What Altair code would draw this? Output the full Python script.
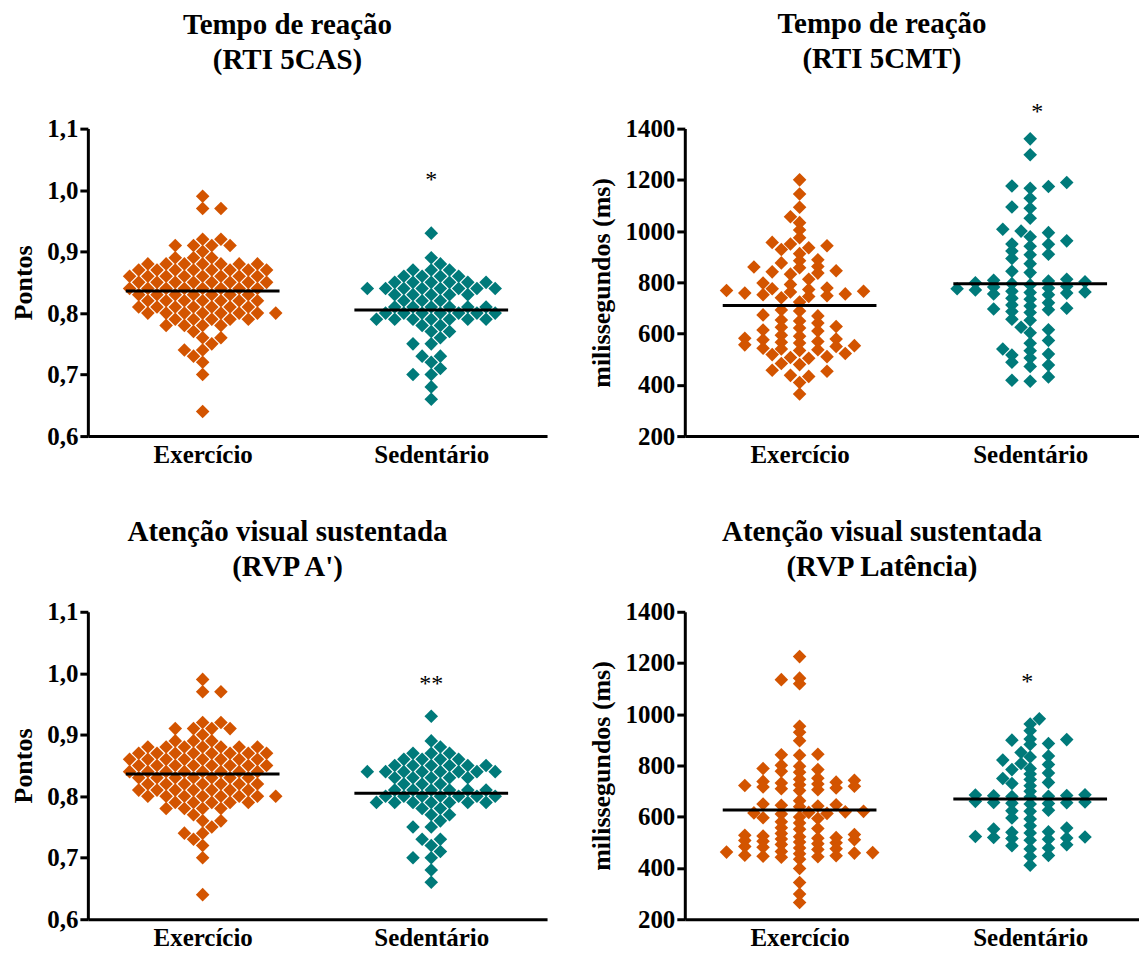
import altair as alt
import pandas as pd

GROUPS = ["Exercício", "Sedentário"]
COLORS = ["#D35400", "#007A7A"]

# ---- Tempo de reação (RTI 5CAS) / Atenção visual (RVP A') : Pontos ----
rti5cas_ex = [0.99, 0.97, 0.97, 0.92, 0.92, 0.91, 0.91, 0.91, 0.91, 0.90,
              0.89, 0.89, 0.89, 0.88, 0.88, 0.88, 0.88, 0.88, 0.88, 0.88,
              0.87, 0.87, 0.87, 0.87, 0.87, 0.87, 0.87, 0.87,
              0.86, 0.86, 0.86, 0.86, 0.86, 0.86, 0.86, 0.86,
              0.85, 0.85, 0.85, 0.85, 0.85, 0.85, 0.85, 0.85,
              0.84, 0.84, 0.84, 0.84, 0.84, 0.84, 0.84, 0.84,
              0.83, 0.83, 0.83, 0.83, 0.83, 0.83, 0.83,
              0.82, 0.82, 0.82, 0.82, 0.82, 0.82, 0.82,
              0.81, 0.81, 0.81, 0.81, 0.81, 0.81, 0.81,
              0.80, 0.80, 0.80, 0.80, 0.80, 0.80, 0.80, 0.80,
              0.79, 0.79, 0.79, 0.79, 0.79, 0.78, 0.78, 0.78, 0.78,
              0.77, 0.76, 0.76, 0.75, 0.74, 0.74, 0.73, 0.72, 0.70, 0.64]
rti5cas_sed = [0.93, 0.89, 0.88, 0.87, 0.87, 0.87, 0.86, 0.86, 0.86, 0.86,
               0.85, 0.85, 0.85, 0.85, 0.85, 0.85,
               0.84, 0.84, 0.84, 0.84, 0.84, 0.84, 0.84, 0.84,
               0.83, 0.83, 0.83, 0.83, 0.83, 0.82, 0.82, 0.82,
               0.81, 0.81, 0.81, 0.81, 0.81, 0.81,
               0.80, 0.80, 0.80, 0.80, 0.80, 0.80, 0.80,
               0.79, 0.79, 0.79, 0.79, 0.79, 0.79, 0.79,
               0.78, 0.78, 0.77, 0.77, 0.76, 0.75, 0.75, 0.73, 0.73,
               0.72, 0.71, 0.70, 0.70, 0.68, 0.66]
rti5cas_means = [0.836, 0.805]

rvpa_ex = list(rti5cas_ex)
rvpa_sed = list(rti5cas_sed)
rvpa_means = [0.836, 0.805]

# ---- Tempo de reação (RTI 5CMT) : ms ----
rti5cmt_ex = [1200, 1145, 1093, 1056, 1033, 1004, 974, 956, 950, 943, 935, 928,
              912, 888, 884, 876, 862, 860, 857, 845, 841, 836, 832, 812, 797,
              792, 778, 775, 772, 768, 765, 762, 758, 755, 752, 748, 745, 740,
              723, 692, 688, 673, 669, 653, 649, 641, 628, 625, 622, 614, 610,
              594, 590, 582, 579, 576, 569, 566, 563, 556, 553, 550, 543, 540,
              537, 534, 522, 518, 510, 507, 504, 483, 479, 457, 453, 437, 433,
              409, 364]
rti5cmt_sed = [1360, 1298, 1190, 1176, 1174, 1167, 1128, 1094, 1089, 1050, 1007,
               1000, 994, 978, 962, 950, 949, 941, 922, 910, 908, 893, 873, 843,
               838, 812, 808, 805, 802, 798, 795, 790, 785, 782, 778, 775, 770,
               765, 762, 760, 758, 755, 752, 738, 734, 720, 712, 708, 699, 696,
               693, 686, 682, 656, 652, 625, 615, 603, 573, 562, 540, 533, 520,
               516, 505, 488, 477, 472, 431, 418, 414]
rti5cmt_means = [710, 795]

# ---- Atenção visual sustentada (RVP Latência) : ms ----
rvplat_ex = [1225, 1141, 1135, 1119, 953, 930, 897, 844, 842, 840, 801, 797,
             788, 784, 778, 774, 750, 746, 742, 738, 735, 732, 728, 725, 722,
             719, 716, 712, 709, 705, 702, 662, 650, 647, 645, 642, 639, 621,
             619, 617, 615, 613, 611, 599, 596, 593, 580, 576, 557, 554, 551,
             535, 531, 528, 525, 522, 519, 516, 513, 510, 507, 504, 501, 498,
             495, 492, 484, 481, 478, 475, 472, 464, 462, 460, 458, 456,
             450, 448, 446, 444, 442, 434, 398, 343, 298, 265]
rvplat_sed = [982, 962, 936, 903, 901, 899, 886, 882, 851, 837, 833, 821, 808,
              804, 788, 784, 771, 767, 749, 745, 734, 730, 721, 699, 686, 685,
              683, 682, 680, 679, 677, 660, 658, 656, 655, 653, 652, 650, 625,
              623, 621, 595, 591, 565, 556, 552, 541, 539, 537, 523, 521, 519,
              517, 515, 512, 508, 491, 487, 478, 474, 449, 445, 411]
rvplat_means = [626, 669]

STAR_TEXT = ["*", "*", "**", "*"]
STAR_VALUE = [1.027, 1494, 0.994, 1154]

# ---------------- layout helpers ----------------
FONT = "Liberation Serif"
H = 308
STEP = 18.3  # horizontal spacing between diamonds in a row (px)


def swarm(values, px_per_unit, ry):
    """Deterministic grid beeswarm: returns x offsets (px) for each value."""
    order = sorted(range(len(values)), key=lambda i: values[i])
    placed = []
    xs = [0.0] * len(values)
    flip = False
    for i in order:
        y = values[i] * px_per_unit
        cands = [0.0]
        for m in range(1, 40):
            a, b = m * STEP / 2, -m * STEP / 2
            cands += [b, a] if flip else [a, b]
        for c in cands:
            ok = True
            for (px, py) in placed:
                dx = (c - px) / STEP
                dy = (y - py) / ry
                if dx * dx + dy * dy < 0.999:
                    ok = False
                    break
            if ok:
                break
        flip = not flip
        placed.append((c, y))
        xs[i] = c
    return xs


def panel(title, ytitle, ex, sed, means, star, star_val, star_x, domain,
          ticks, label_expr, W, centers, ry, toff):
    px_per_unit = H / (domain[1] - domain[0])
    rows = []
    for g, vals, cx in [(GROUPS[0], ex, centers[0]), (GROUPS[1], sed, centers[1])]:
        offs = swarm(vals, px_per_unit, ry)
        for v, o in zip(vals, offs):
            rows.append({"group": g, "value": v, "xpos": cx + o})
    df = pd.DataFrame(rows)
    mdf = pd.DataFrame({"group": GROUPS, "value": means,
                        "xpos": [c - 77 for c in centers],
                        "xpos2": [c + 77 for c in centers]})
    sdf = pd.DataFrame({"xpos": [star_x], "value": [star_val], "label": [star]})

    xenc = alt.X("xpos:Q", scale=alt.Scale(domain=[0, W], nice=False, zero=False),
                 axis=alt.Axis(values=centers, ticks=False, grid=False, title=None,
                               labelExpr=f"datum.value < {W/2} ? 'Exercício' : 'Sedentário'",
                               labelFont=FONT, labelFontSize=25, labelFontWeight="bold",
                               labelColor="black", labelPadding=6, domainColor="black",
                               domainWidth=3, labelFlush=False))
    yenc = alt.Y("value:Q", scale=alt.Scale(domain=domain, nice=False, zero=False),
                 axis=alt.Axis(values=ticks, labelExpr=label_expr, grid=False,
                               title=ytitle, titleFont=FONT, titleFontSize=26,
                               titleFontWeight="bold", titleColor="black",
                               titlePadding=10,
                               labelFont=FONT, labelFontSize=25, labelFontWeight="bold",
                               labelColor="black", labelPadding=2,
                               tickColor="black", tickWidth=3, tickSize=8,
                               domainColor="black", domainWidth=3))
    pts = alt.Chart(df).mark_point(shape="diamond", filled=True, size=185, opacity=1).encode(
        x=xenc, y=yenc,
        color=alt.Color("group:N", scale=alt.Scale(domain=GROUPS, range=COLORS), legend=None))
    rule = alt.Chart(mdf).mark_rule(color="black", strokeWidth=3).encode(
        x=alt.X("xpos:Q"), x2="xpos2:Q", y=alt.Y("value:Q"))
    txt = alt.Chart(sdf).mark_text(font=FONT, fontSize=24, color="black",
                                   baseline="middle", dy=7).encode(
        x=alt.X("xpos:Q"), y=alt.Y("value:Q"), text="label:N")
    return alt.layer(pts, rule, txt).properties(
        width=W, height=H,
        title=alt.TitleParams(text=title, font=FONT, fontSize=29, fontWeight="bold",
                              color="black", lineHeight=35, anchor="middle",
                              frame="group", dx=-30, offset=toff))


pts_ticks = [0.6, 0.7, 0.8, 0.9, 1.0, 1.1]
ms_ticks = [200, 400, 600, 800, 1000, 1200, 1400]
pts_expr = "replace(format(datum.value, '.1f'), '.', ',')"
ms_expr = "format(datum.value, 'd')"

p1 = panel(["Tempo de reação", "(RTI 5CAS)"], "Pontos", rti5cas_ex, rti5cas_sed,
           rti5cas_means, STAR_TEXT[0], STAR_VALUE[0], 344, [0.6, 1.1], pts_ticks,
           pts_expr, 460, [115, 344], 6.5, 42)
p2 = panel(["Tempo de reação", "(RTI 5CMT)"], "milissegundos (ms)", rti5cmt_ex,
           rti5cmt_sed, rti5cmt_means, STAR_TEXT[1], STAR_VALUE[1], 353, [200, 1400],
           ms_ticks, ms_expr, 455, [115, 346], 6.5, 26)
p3 = panel(["Atenção visual sustentada", "(RVP A')"], "Pontos", rvpa_ex, rvpa_sed,
           rvpa_means, STAR_TEXT[2], STAR_VALUE[2], 344, [0.6, 1.1], pts_ticks,
           pts_expr, 460, [115, 344], 6.5, 18)
p4 = panel(["Atenção visual sustentada", "(RVP Latência)"], "milissegundos (ms)",
           rvplat_ex, rvplat_sed, rvplat_means, STAR_TEXT[3], STAR_VALUE[3], 343,
           [200, 1400], ms_ticks, ms_expr, 455, [115, 346], 5.2, 18)

top = alt.hconcat(p1, p2, spacing=42)
bot = alt.hconcat(p3, p4, spacing=42)
chart = alt.vconcat(top, bot, spacing=51).properties(
    padding={"left": 2, "top": 0, "right": 0, "bottom": 0}
).configure_view(stroke=None)

chart.save("out.html", embed_options={"renderer": "svg", "actions": False})
